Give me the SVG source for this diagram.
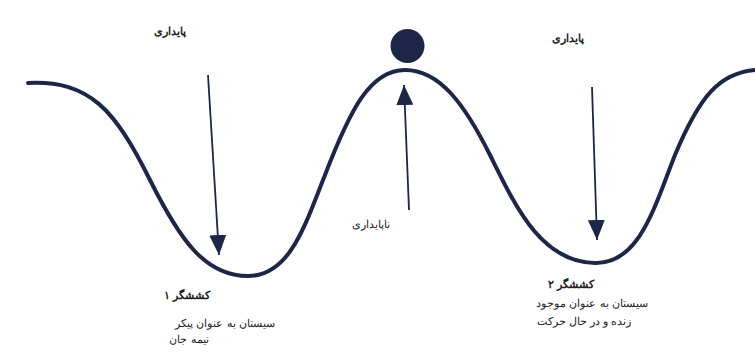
<svg xmlns="http://www.w3.org/2000/svg" width="755" height="352" viewBox="0 0 755 352">
<style>
.curve{fill:none;stroke:#1c2748;stroke-width:4;stroke-linecap:round}
.arr{stroke:#1c2748;stroke-width:1.8;fill:none}
.t{font-family:"Liberation Sans","Noto Sans",sans-serif;font-size:11px;fill:#222;text-anchor:middle}
.b{font-weight:bold}
</style>
<defs>
<marker id="ah" viewBox="0 0 20 17" refX="20" refY="8.5" markerWidth="20" markerHeight="17" markerUnits="userSpaceOnUse" orient="auto">
<path d="M0,0 L20,8.5 L0,17 Z" fill="#1c2748"/>
</marker>
</defs>
<rect width="755" height="352" fill="#ffffff"/>
<g id="landscape">
<path class="curve" d="M28,83 C90,80 115,110 150,180 C180,240 205,276 248,276 C290,276 305,225 325,175 C350,110 370,70 405,70 C440,70 465,105 490,155 C515,205 540,262 595,263 C640,264 655,205 675,155 C700,95 720,73 755,70"/>
</g>
<g id="ball">
<circle cx="407.5" cy="46" r="17" fill="#1c2748"/>
</g>
<g id="connectors">
<line class="arr" x1="208" y1="75" x2="219" y2="255" marker-end="url(#ah)"/>
<line class="arr" x1="409" y1="210" x2="404" y2="85" marker-end="url(#ah)"/>
<line class="arr" x1="592" y1="87" x2="597" y2="240" marker-end="url(#ah)"/>
</g>
<g id="stable-left">
<text class="t b" x="170" y="35">پایداری</text>
</g>
<g id="stable-right">
<text class="t b" x="568" y="42">پایداری</text>
</g>
<g id="unstable">
<text class="t" x="371" y="228">ناپایداری</text>
</g>
<g id="attractor-1">
<text class="t b" x="187" y="299">کششگر ۱</text>
<text class="t" x="225" y="327">سیستان به عنوان پیکر</text>
<text class="t" x="189" y="343">نیمه جان</text>
</g>
<g id="attractor-2">
<text class="t b" x="571" y="288">کششگر ۲</text>
<text class="t" x="592" y="307">سیستان به عنوان موجود</text>
<text class="t" x="584" y="325">زنده و در حال حرکت</text>
</g>
</svg>
